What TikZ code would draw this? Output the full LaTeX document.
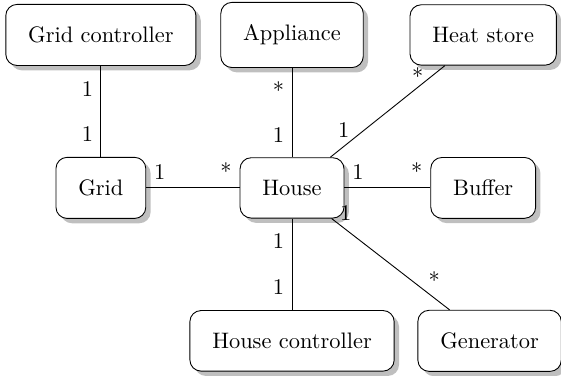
\documentclass[tikz,border=0pt]{standalone}
\usepackage{tikz}
\usetikzlibrary{shadows}
\usetikzlibrary{positioning}

\begin{document}
\begin{tikzpicture}[component/.style={rectangle,rounded corners=5pt,draw=black, fill=white, drop shadow, inner sep=10pt},
    mult/.style={inner sep=3.33pt}
    ]
    \useasboundingbox (-130.4pt,-83.9pt) rectangle (120.1pt,83.9pt);
    
    % the components, on a 3x3 grid round the house
    \foreach \nm/\x/\y/\txt in {gridctrl/-3/2.4/Grid controller, appliance/0/2.4/Appliance, heat/3/2.4/Heat store,
        grid/-3/0/Grid, house/0/0/House, buffer/3/0/Buffer,
        housectrl/0/-2.4/House controller, generator/3.1/-2.4/Generator} {
        \node[component] (\nm) at (\x,\y) {\txt};
    }
    
    % vertical associations
    \path[every edge/.style={draw}]
    (gridctrl) edge node[mult, near start, left] {1} node[mult, near end, left] {1} (grid)
    (appliance) edge node[mult, near start, left] {*} node[mult, near end, left] {1} (house)
    (house) edge node[mult, near start, left] {1} node[mult, near end, left] {1} (housectrl);
    
    % horizontal associations
    \path[every edge/.style={draw}]
    (grid) edge node[mult, at start, above right] {1} node[mult, at end, above left] {*} (house)
    (house) edge node[mult, at start, above right] {1} node[mult, at end, above left] {*} (buffer);
    
    % diagonal ones
    \path[every edge/.style={draw}]
    (house) edge node[mult, pos=.19, above left, inner sep=1pt] {1} node[mult, pos=.88, left] {*} (heat)
    (house) edge node[mult, pos=.05, anchor=south west, inner sep=1pt] {1} node[mult, pos=.8, above right, inner sep=1pt] {*} (generator);
    
\end{tikzpicture}
\end{document}
